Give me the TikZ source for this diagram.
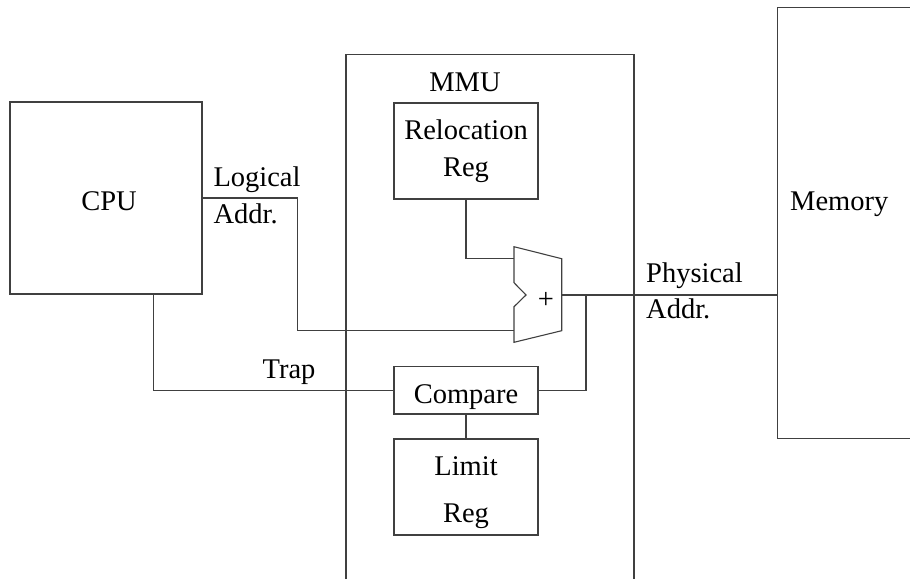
\documentclass[tikz,border=0pt]{standalone}
\usepackage{fontspec}
\setmainfont{Liberation Serif}
\begin{document}
\begin{tikzpicture}[x=1pt,y=-1pt,
  every node/.style={font=\fontsize{28.5}{38}\selectfont, inner sep=0pt},
  wire/.style={draw=black!75, line width=1.1pt},
  box/.style={draw=black!75, line width=1.1pt, rectangle},
  lbl/.style={anchor=base west},
  ctr/.style={anchor=base}]
\useasboundingbox (0,0) rectangle (910,579);
% CPU
\node[box, minimum width=192pt, minimum height=192pt] (cpu) at (106,198) {};
\node[ctr] (cputxt) at (109,210.7) {CPU};
% MMU outline
\draw[wire] (346,579) -- (346,54.7) -- (634,54.7) -- (634,579);
\node[ctr] (mmu) at (465,91) {MMU};
% Memory outline
\draw[wire] (912,7.3) -- (777.7,7.3) -- (777.7,438.3) -- (912,438.3);
\node[lbl] (mem) at (790,210.7) {Memory};
\coordinate (memin) at (777.7,295);
% Registers and compare
\node[box, minimum width=144pt, minimum height=96pt] (reloc) at (466,151) {};
\node[ctr] (reloc1) at (466,139.3) {Relocation};
\node[ctr] (reloc2) at (466,176.7) {Reg};
\node[box, minimum width=144pt, minimum height=47.3pt] (cmp) at (466,390.3) {};
\node[ctr] (cmptxt) at (466,403.3) {Compare};
\node[box, minimum width=144pt, minimum height=96pt] (lim) at (466,487) {};
\node[ctr] (lim1) at (466,475) {Limit};
\node[ctr] (lim2) at (466,522.7) {Reg};
% Adder
\coordinate (in1) at (514,258.7);
\coordinate (in2) at (514,330.7);
\coordinate (out) at (561.7,295);
\draw[wire, line join=miter] (514,246.7) -- (561.7,258.7) -- (561.7,330.7) -- (514,342.3) -- (514,306.7) -- (526,295) -- (514,282.7) -- cycle;
\node (plus) at (546,300) {+};
% Labels
\node[lbl] (logical) at (213.3,186.7) {Logical};
\node[lbl] (laddr) at (213.3,223.3) {Addr.};
\node[lbl] (physical) at (646,282.7) {Physical};
\node[lbl] (paddr) at (646,318.3) {Addr.};
\node[ctr] (trap) at (289,378) {Trap};
% Wires
\coordinate (la) at (297.7,198);
\coordinate (cpub) at (153.7,294);
\coordinate (j) at (586,295);
\draw[wire] (cpu.east) -- (la) |- (in2);
\draw[wire] (reloc.south) |- (in1);
\draw[wire] (out) -- (memin);
\draw[wire] (cmp.east) -| (j);
\draw[wire] (cpub) |- (cmp.west);
\draw[wire] (cmp.south) -- (lim.north);
\end{tikzpicture}
\end{document}
